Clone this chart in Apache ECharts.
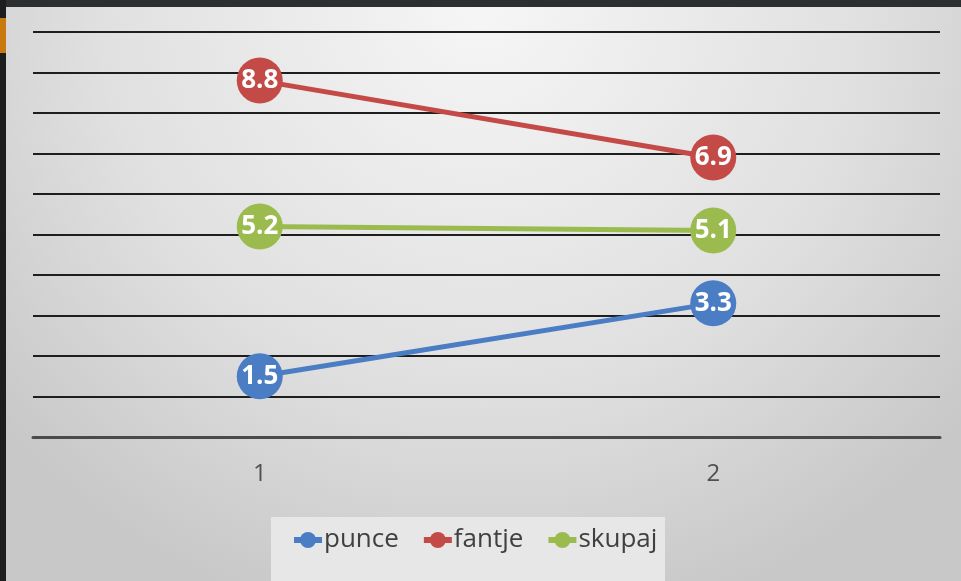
<!DOCTYPE html>
<html><head><meta charset="utf-8">
<script src="https://cdn.jsdelivr.net/npm/echarts@6/dist/echarts.min.js"></script>
<style>html,body{margin:0;padding:0;}#c{width:961px;height:581px;}</style>
</head><body><div id="c"></div>
<script>
const categories = ['1', '2'];
const punce = [1.5, 3.3];
const fantje = [8.8, 6.9];
const skupaj = [5.2, 5.1];
const seriesNames = ['punce', 'fantje', 'skupaj'];
const colors = ['#4a7dc4', '#c44a48', '#9bbb4f'];

const chart = echarts.init(document.getElementById('c'));
function mk(name, data, color) {
  return {
    name: name, type: 'line', data: data,
    symbol: 'circle', symbolSize: 46,
    itemStyle: { color: color },
    lineStyle: { color: color, width: 5 },
    label: { show: true, position: 'inside', color: '#fff', fontSize: 26, fontWeight: 'bold',
             fontFamily: 'Open Sans', formatter: p => p.value.toFixed(1) },
    emphasis: { disabled: true },
    z: 3
  };
}
chart.setOption({
  animation: false,
  backgroundColor: {
    type: 'radial', x: 0.5, y: 0.0, r: 1.1,
    colorStops: [{ offset: 0, color: '#f6f6f6' }, { offset: 0.6, color: '#e0e0e0' }, { offset: 1, color: '#c8c8c8' }]
  },
  graphic: [
    { type: 'rect', shape: { x: 0, y: 0, width: 961, height: 7 }, style: { fill: '#2c2e2f' }, z: 100 },
    { type: 'rect', shape: { x: 0, y: 0, width: 6, height: 581 }, style: { fill: '#1b1d1f' }, z: 100 },
    { type: 'rect', shape: { x: 0, y: 18, width: 6, height: 35 }, style: { fill: '#c87a10' }, z: 101 },
    { type: 'rect', shape: { x: 271, y: 517, width: 394, height: 64 }, style: { fill: '#e7e7e7' }, z: -1 }
  ],
  grid: { left: 33, right: 21, top: 32, bottom: 144 },
  xAxis: {
    type: 'category', data: categories, boundaryGap: true,
    axisLine: { show: true, lineStyle: { color: '#4a4a4a', width: 3 } },
    axisTick: { show: false },
    axisLabel: { color: '#505050', fontSize: 24, fontFamily: 'Open Sans', margin: 25 },
    splitLine: { show: false }
  },
  yAxis: {
    type: 'value', min: 0, max: 10, interval: 1,
    axisLine: { show: false }, axisTick: { show: false }, axisLabel: { show: false },
    splitLine: { show: true, lineStyle: { color: '#1e1e1e', width: 2 } }
  },
  legend: {
    data: seriesNames, left: 286, top: 522, itemGap: 22,
    itemWidth: 28, itemHeight: 20,
    lineStyle: { width: 6 },
    textStyle: { color: '#404040', fontSize: 26, fontFamily: 'Open Sans', padding: [0, 0, 0, -3] }
  },
  series: [mk(seriesNames[0], punce, colors[0]), mk(seriesNames[1], fantje, colors[1]), mk(seriesNames[2], skupaj, colors[2])]
});
</script></body></html>
